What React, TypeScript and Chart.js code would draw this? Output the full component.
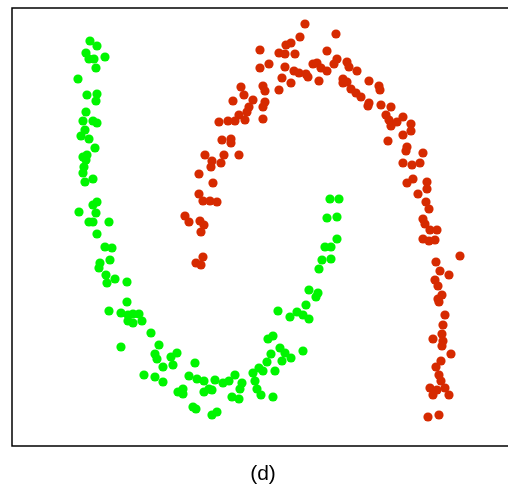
import React, { useEffect, useRef } from "react";
import { Chart, registerables } from "chart.js";

Chart.register(...registerables);

// Moon cluster A (green), [x, y] in plot units (y grows downward)
const greenPoints: [number, number][] = [
  [90,41],[97,46],[86,53],[89,59],[94,59],[105,57],[96,68],[78,79],[87,95],[97,94],[96,101],
  [86,112],[83,121],[93,121],[97,123],[85,130],[81,136],[89,139],[95,148],[83,157],[87,155],
  [86,160],[84,167],[83,173],[93,179],[85,182],
  [97,202],[93,205],[79,212],[96,213],[89,222],[93,222],[109,222],[97,234],[105,247],[112,248],
  [100,263],[99,268],[110,260],[106,275],[115,279],[107,283],[127,282],[127,302],[109,311],
  [121,313],[128,315],[133,314],[139,314],[128,321],[133,323],[142,321],[151,333],[121,347],
  [159,345],[155,354],[157,359],[171,357],[177,353],[163,367],[173,365],[144,375],[155,377],
  [163,382],[195,363],[189,376],[197,379],[204,381],[215,380],[223,383],[229,381],[235,375],
  [209,389],[204,392],[212,390],[178,392],[183,389],[183,394],[242,383],[240,389],[232,397],
  [239,399],[193,407],[196,409],[212,415],[217,412],[253,373],[259,368],[263,371],[255,381],
  [257,389],[261,395],[273,397],[275,371],[267,362],[271,354],[280,348],[285,353],[291,358],
  [282,361],[303,351],[268,339],[273,336],[278,311],[290,317],[297,312],[303,315],[309,319],
  [306,305],[309,290],[318,293],[316,297],[319,269],[322,260],[331,259],[325,247],[331,247],
  [337,239],[327,218],[337,217],[330,199],[339,199]
];

// Moon cluster B (red)
const redPoints: [number, number][] = [
  [305,24],[336,34],[300,37],[291,43],[286,45],[260,50],[279,53],[285,54],[295,54],[327,51],
  [269,64],[260,68],[285,67],[294,71],[299,73],[313,64],[317,63],[321,68],[327,71],[337,59],
  [334,64],[347,62],[349,67],[357,71],[282,78],[291,83],[308,77],[306,74],[319,81],[343,79],
  [347,82],[343,83],[351,89],[356,93],[361,97],[369,81],[379,86],[380,90],[369,103],[368,106],
  [279,90],[263,86],[265,91],[241,87],[244,95],[233,101],[253,100],[265,102],[263,107],[249,107],
  [247,112],[239,115],[235,121],[228,121],[219,122],[245,120],[263,119],[381,105],[391,107],
  [386,115],[389,120],[391,126],[397,122],[403,117],[411,124],[411,131],[403,135],[388,141],
  [222,140],[231,139],[231,143],[205,155],[224,155],[239,155],[212,161],[211,167],[221,163],
  [199,174],[213,183],[199,194],[203,201],[210,201],[217,202],[185,216],[189,222],[200,221],
  [204,225],[201,232],[203,257],[196,263],[201,265],
  [407,147],[406,151],[423,153],[403,163],[412,165],[420,163],[413,179],[407,183],[427,182],
  [427,189],[418,194],[426,202],[429,209],[423,219],[425,224],[430,230],[437,230],[423,239],
  [429,241],[435,240],[460,256],[436,262],[440,271],[449,275],[435,280],[438,286],[442,295],
  [438,299],[439,302],[445,315],[443,325],[442,334],[433,339],[443,341],[442,346],[451,354],
  [441,361],[436,367],[439,375],[441,381],[430,388],[437,390],[445,388],[433,395],[449,395],
  [428,417],[439,415]
];

const panelLabel = "(d)";
const xRange = [12, 508];
const yRange = [8, 446];

const framePlugin = {
  id: "framePlugin",
  afterDraw(chart: any) {
    const { ctx, chartArea } = chart;
    const { left, top, right, bottom } = chartArea;
    ctx.save();
    ctx.strokeStyle = "#000";
    ctx.lineWidth = 1.5;
    ctx.beginPath();
    ctx.moveTo(right + 2, top);
    ctx.lineTo(left, top);
    ctx.lineTo(left, bottom);
    ctx.lineTo(right + 2, bottom);
    ctx.stroke();
    ctx.fillStyle = "#000";
    ctx.font = "21px 'Liberation Sans', Arial, sans-serif";
    ctx.textAlign = "center";
    ctx.textBaseline = "middle";
    ctx.fillText(panelLabel, 263, 474);
    ctx.restore();
  },
};

export default function App() {
  const ref = useRef<HTMLCanvasElement | null>(null);
  useEffect(() => {
    document.body.style.margin = "0";
    if (!ref.current) return;
    const chart = new Chart(ref.current, {
      type: "scatter",
      data: {
        datasets: [
          {
            label: "B",
            data: redPoints.map(([x, y]) => ({ x, y })),
            backgroundColor: "rgb(214,42,0)",
            borderWidth: 0,
            pointRadius: 4.6,
          },
          {
            label: "A",
            data: greenPoints.map(([x, y]) => ({ x, y })),
            backgroundColor: "rgb(0,245,0)",
            borderWidth: 0,
            pointRadius: 4.6,
          },
        ],
      },
      options: {
        animation: false,
        responsive: false,
        devicePixelRatio: 1,
        layout: { autoPadding: false, padding: { left: 12, top: 8, right: 0, bottom: 46 } },
        plugins: { legend: { display: false }, tooltip: { enabled: false }, title: { display: false } },
        scales: {
          x: { type: "linear", min: xRange[0], max: xRange[1], display: false },
          y: { type: "linear", min: yRange[0], max: yRange[1], reverse: true, display: false },
        },
      },
      plugins: [framePlugin],
    });
    return () => chart.destroy();
  }, []);
  return (
    <div style={{ position: "absolute", left: 0, top: 0, width: 508, height: 492, background: "#fff" }}>
      <canvas ref={ref} width={508} height={492} style={{ display: "block" }} />
    </div>
  );
}
